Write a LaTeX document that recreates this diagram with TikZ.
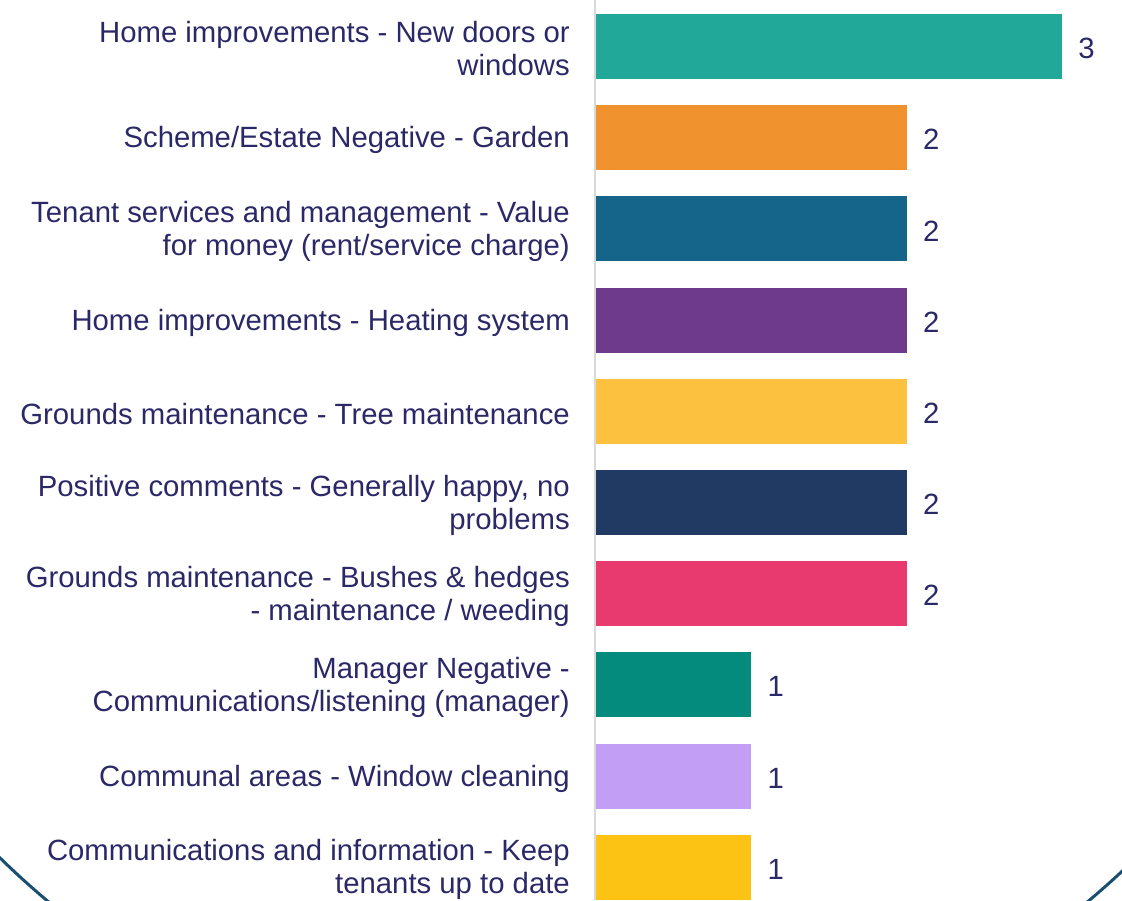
\documentclass[tikz,border=0pt]{standalone}
\usepackage{fontspec}
\setmainfont{Liberation Sans}
\definecolor{txt}{HTML}{2B2868}
\definecolor{arc}{HTML}{1B4F72}
\definecolor{axis}{HTML}{D9D9D9}
\definecolor{c1}{HTML}{22A899}
\definecolor{c2}{HTML}{F0932F}
\definecolor{c3}{HTML}{15658A}
\definecolor{c4}{HTML}{6E3A8B}
\definecolor{c5}{HTML}{FDC140}
\definecolor{c6}{HTML}{213A63}
\definecolor{c7}{HTML}{E83A6F}
\definecolor{c8}{HTML}{058B7E}
\definecolor{c9}{HTML}{C39EF5}
\definecolor{c10}{HTML}{FCC314}
\tikzset{
  lbl/.style={anchor=east, align=right, text=txt, inner sep=0pt, font=\fontsize{29.3}{33}\selectfont},
  val/.style={anchor=west, text=txt, inner sep=0pt, font=\fontsize{29.3}{33}\selectfont},
}
\begin{document}
\begin{tikzpicture}[x=1pt,y=-1pt]
\useasboundingbox (0,0) rectangle (1122,900);
\begin{scope}
\clip (0,0) rectangle (1122,900);
\draw[arc, line width=3pt] (568,279) circle (811);
\end{scope}
\draw[axis, line width=2pt] (595,0) -- (595,900);
\foreach \i/\v/\c/\t in {
 1/3/c1/{Home improvements - New doors or\\windows},
 2/2/c2/{Scheme/Estate Negative - Garden},
 3/2/c3/{Tenant services and management - Value\\for money (rent/service charge)},
 4/2/c4/{Home improvements - Heating system},
 5/2/c5/{Grounds maintenance - Tree maintenance},
 6/2/c6/{Positive comments - Generally happy, no\\problems},
 7/2/c7/{Grounds maintenance - Bushes \& hedges\\- maintenance / weeding},
 8/1/c8/{Manager Negative -\\Communications/listening (manager)},
 9/1/c9/{Communal areas - Window cleaning},
 10/1/c10/{Communications and information - Keep\\tenants up to date}}
{
  \pgfmathsetmacro{\yc}{46.5+91.2*(\i-1)}
  \pgfmathsetmacro{\xe}{596+155.4*\v}
  \fill[\c] (596,\yc-32.5) rectangle (\xe,\yc+32.5);
  \node[lbl] (l\i) at (570,\yc+2.5) {\t};
  \node[val] (v\i) at (\xe+16,\yc+2) {\v};
}
\end{tikzpicture}
\end{document}
